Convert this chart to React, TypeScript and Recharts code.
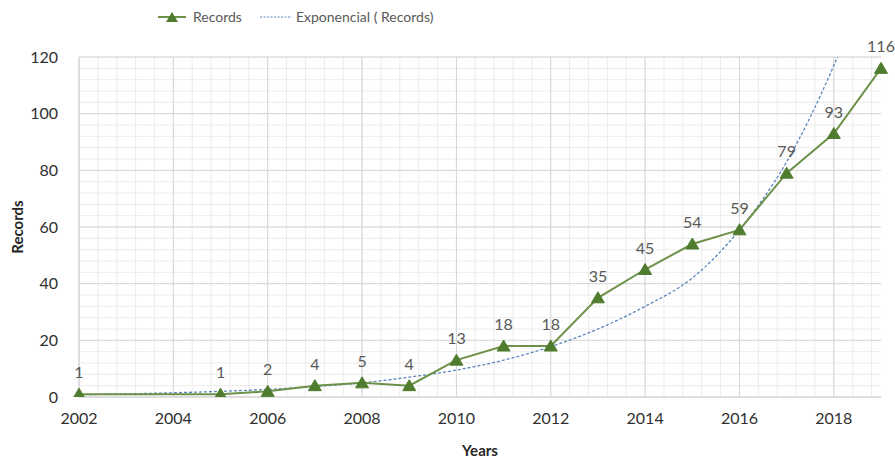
import React from "react";
import { LineChart, Line, XAxis, YAxis, CartesianGrid, Legend, LabelList } from "recharts";

const years = [2002, 2003, 2004, 2005, 2006, 2007, 2008, 2009, 2010, 2011, 2012, 2013, 2014, 2015, 2016, 2017, 2018, 2019];
const records = [1, null, null, 1, 2, 4, 5, 4, 13, 18, 18, 35, 45, 54, 59, 79, 93, 116];
// exponential trendline
const trend = [0.8, 1.1, 1.5, 2, 2.7, 3.7, 5, 7, 9.5, 13, 17.8, 24, 32, 42, 59, 83, 117, 160];

const xTicks = [2002, 2004, 2006, 2008, 2010, 2012, 2014, 2016, 2018];
const yTicks = [0, 20, 40, 60, 80, 100, 120];

const minorX = Array.from({ length: 43 }, (_, i) => 2002 + i * 0.4);
const minorY = Array.from({ length: 31 }, (_, i) => i * 4);

const data = years.map((y, i) => ({ year: y, records: records[i], trend: trend[i] }));

const GREEN = "#6e9149";
const MARKER = "#4f7c2f";
const BLUE = "#5a86bd";
const FONT = "Lato, 'Open Sans', sans-serif";

const Triangle = (props: any) => {
  const { cx, cy, index } = props;
  if (cx == null || cy == null || props.value == null) return <g key={index} />;
  return (
    <polygon
      key={index}
      points={`${cx - 6.5},${cy + 5} ${cx + 6.5},${cy + 5} ${cx},${cy - 6}`}
      fill={MARKER}
      stroke={MARKER}
    />
  );
};

const LegendBox = () => (
  <div style={{ display: "flex", alignItems: "center", fontFamily: FONT, fontSize: 14, color: "#595959" }}>
    <svg width={30} height={14}>
      <line x1={1} y1={7} x2={29} y2={7} stroke={GREEN} strokeWidth={2} />
      <polygon points="9,12 21,12 15,2" fill={MARKER} />
    </svg>
    <span style={{ marginLeft: 6, marginRight: 18 }}>Records</span>
    <svg width={32} height={14}>
      <line x1={0} y1={7} x2={32} y2={7} stroke={BLUE} strokeWidth={1.2} strokeDasharray="2 1.5" />
    </svg>
    <span style={{ marginLeft: 4 }}>Exponencial ( Records)</span>
  </div>
);

export default function App() {
  return (
    <div style={{ position: "absolute", left: 0, top: 0, background: "#fff" }}>
      <LineChart width={895} height={459} data={data} margin={{ top: 57, right: 14, bottom: 0, left: 0 }}>
        <CartesianGrid stroke="#ececec" verticalValues={minorX} horizontalValues={minorY} />
        <CartesianGrid stroke="#d6d6d6" verticalValues={xTicks} horizontalValues={yTicks} />
        <XAxis
          dataKey="year"
          type="number"
          domain={[2002, 2019]}
          ticks={xTicks}
          interval={0}
          height={62}
          tickLine={false}
          axisLine={{ stroke: "#d6d6d6" }}
          tick={{ fontSize: 16, fill: "#303030", fontFamily: FONT }}
          tickMargin={10}
          label={{ value: "Years", position: "insideBottom", offset: 3, fontWeight: 700, fontSize: 15, fill: "#262626", fontFamily: FONT }}
        />
        <YAxis
          type="number"
          domain={[0, 120]}
          ticks={yTicks}
          interval={0}
          allowDataOverflow
          width={79}
          tickLine={false}
          axisLine={{ stroke: "#d6d6d6" }}
          tick={{ fontSize: 16, fill: "#303030", fontFamily: FONT }}
          tickMargin={15}
          label={{ value: "Records", angle: -90, position: "center", dx: -22, fontWeight: 700, fontSize: 15, fill: "#262626", fontFamily: FONT }}
        />
        <Legend
          layout="horizontal"
          verticalAlign="middle"
          align="center"
          wrapperStyle={{ top: 8, left: 157, width: "auto" }}
          content={() => <LegendBox />}
        />
        <Line
          dataKey="trend"
          type="monotone"
          stroke={BLUE}
          strokeWidth={1.3}
          strokeDasharray="3 2"
          dot={false}
          activeDot={false}
          isAnimationActive={false}
        />
        <Line
          dataKey="records"
          type="linear"
          stroke={GREEN}
          strokeWidth={2}
          connectNulls
          dot={<Triangle />}
          activeDot={false}
          isAnimationActive={false}
        >
          <LabelList dataKey="records" position="top" offset={16} fill="#595959" fontSize={16} fontFamily={FONT} />
        </Line>
      </LineChart>
    </div>
  );
}
